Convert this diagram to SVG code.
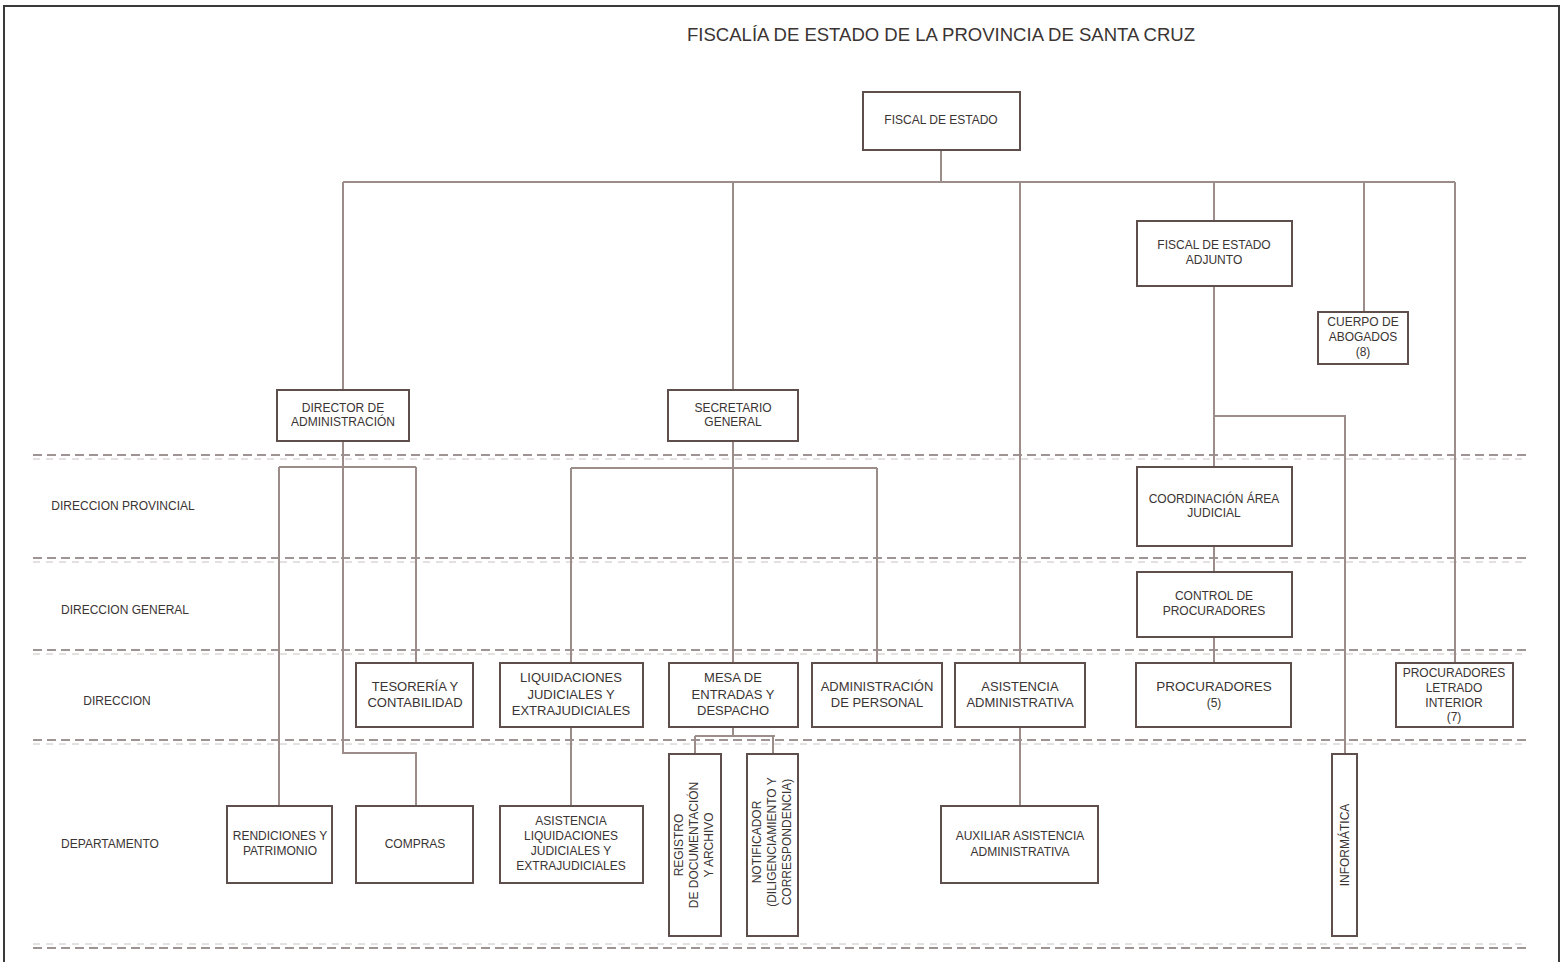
<svg xmlns="http://www.w3.org/2000/svg" width="1563" height="962" viewBox="0 0 1563 962">
<style>
text{font-family:"Liberation Sans",Arial,sans-serif;fill:#3a3433;text-anchor:middle}
.t12{font-size:12px}
.t13{font-size:13px}
.box{fill:#fff;stroke:#5e4f4d;stroke-width:2}
.ln{fill:none;stroke:#9c8d8b;stroke-width:2}
.dash{fill:none;stroke:#7e7270;stroke-width:1.6;stroke-dasharray:9 5}
.dash2{fill:none;stroke:#c9c2c1;stroke-width:1;stroke-dasharray:7 6}
.lbl{font-size:12px;fill:#3a3433}
</style>
<rect width="1563" height="962" fill="#fff"/>
<path d="M4,962 V6 H1559 V962" fill="none" stroke="#3a3a3a" stroke-width="2"/>
<text x="941" y="41" style="font-size:18px" textLength="508" lengthAdjust="spacingAndGlyphs">FISCALÍA DE ESTADO DE LA PROVINCIA DE SANTA CRUZ</text>
<g id="levels">
<line class="dash" x1="33" y1="455" x2="1528" y2="455"/>
<line class="dash2" x1="33" y1="459" x2="1528" y2="459"/>
<line class="dash" x1="33" y1="558" x2="1528" y2="558"/>
<line class="dash2" x1="33" y1="562" x2="1528" y2="562"/>
<line class="dash" x1="33" y1="650" x2="1528" y2="650"/>
<line class="dash2" x1="33" y1="654" x2="1528" y2="654"/>
<line class="dash" x1="33" y1="740" x2="1528" y2="740"/>
<line class="dash2" x1="33" y1="744" x2="1528" y2="744"/>
<line class="dash" x1="33" y1="948" x2="1528" y2="948"/>
<line class="dash2" x1="33" y1="944" x2="1528" y2="944"/>
<text class="lbl" x="123" y="510">DIRECCION PROVINCIAL</text>
<text class="lbl" x="125" y="614">DIRECCION GENERAL</text>
<text class="lbl" x="117" y="705">DIRECCION</text>
<text class="lbl" x="110" y="848">DEPARTAMENTO</text>
</g>
<g id="connectors">
<path class="ln" d="M941,150 V182 M343,182 H1455 M343,182 V390 M733,182 V390 M1020,182 V663 M1214,182 V221 M1364,182 V312 M1455,182 V663"/>
<path class="ln" d="M343,441 V753 H416 V806 M279,467 H416 M279,467 V806 M416,467 V663"/>
<path class="ln" d="M733,441 V663 M571,468 H877 M571,468 V806 M877,468 V663"/>
<path class="ln" d="M733,727 V736 M695,736 H775 M695,736 V754 M773,736 V754"/>
<path class="ln" d="M1020,727 V806"/>
<path class="ln" d="M1214,286 V467 M1214,546 V572 M1214,637 V663 M1214,416 H1345 V754"/>
</g>
<g id="n-fiscal"><rect class="box" x="863" y="92" width="157" height="58"/><text class="t12" x="941" y="124">FISCAL DE ESTADO</text></g>
<g id="n-adjunto"><rect class="box" x="1137" y="221" width="155" height="65"/><text class="t12" x="1214" y="249">FISCAL DE ESTADO</text><text class="t12" x="1214" y="264">ADJUNTO</text></g>
<g id="n-cuerpo"><rect class="box" x="1318" y="312" width="90" height="52"/><text class="t12" x="1363" y="326">CUERPO DE</text><text class="t12" x="1363" y="341">ABOGADOS</text><text class="t12" x="1363" y="356">(8)</text></g>
<g id="n-director"><rect class="box" x="277" y="390" width="132" height="51"/><text class="t12" x="343" y="412">DIRECTOR DE</text><text class="t12" x="343" y="426">ADMINISTRACIÓN</text></g>
<g id="n-secretario"><rect class="box" x="668" y="390" width="130" height="51"/><text class="t12" x="733" y="412">SECRETARIO</text><text class="t12" x="733" y="426">GENERAL</text></g>
<g id="n-coordinacion"><rect class="box" x="1137" y="467" width="155" height="79"/><text class="t12" x="1214" y="503">COORDINACIÓN ÁREA</text><text class="t12" x="1214" y="517">JUDICIAL</text></g>
<g id="n-control"><rect class="box" x="1137" y="572" width="155" height="65"/><text class="t12" x="1214" y="600">CONTROL DE</text><text class="t12" x="1214" y="615">PROCURADORES</text></g>
<g id="n-tesoreria"><rect class="box" x="356" y="663" width="117" height="64"/><text class="t13" x="415" y="691">TESORERÍA Y</text><text class="t13" x="415" y="707">CONTABILIDAD</text></g>
<g id="n-liquidaciones"><rect class="box" x="500" y="663" width="143" height="64"/><text class="t13" x="571" y="682">LIQUIDACIONES</text><text class="t13" x="571" y="699">JUDICIALES Y</text><text class="t13" x="571" y="715">EXTRAJUDICIALES</text></g>
<g id="n-mesa"><rect class="box" x="669" y="663" width="129" height="64"/><text class="t13" x="733" y="682">MESA DE</text><text class="t13" x="733" y="699">ENTRADAS Y</text><text class="t13" x="733" y="715">DESPACHO</text></g>
<g id="n-personal"><rect class="box" x="812" y="663" width="130" height="64"/><text class="t13" x="877" y="691">ADMINISTRACIÓN</text><text class="t13" x="877" y="707">DE PERSONAL</text></g>
<g id="n-asistencia"><rect class="box" x="955" y="663" width="130" height="64"/><text class="t13" x="1020" y="691">ASISTENCIA</text><text class="t13" x="1020" y="707">ADMINISTRATIVA</text></g>
<g id="n-procuradores"><rect class="box" x="1136" y="663" width="155" height="64"/><text x="1214" y="691" style="font-size:13.5px">PROCURADORES</text><text class="t12" x="1214" y="707">(5)</text></g>
<g id="n-letrado"><rect class="box" x="1396" y="663" width="117" height="64"/><text class="t12" x="1454" y="677">PROCURADORES</text><text class="t12" x="1454" y="692">LETRADO</text><text class="t12" x="1454" y="707">INTERIOR</text><text class="t12" x="1454" y="721">(7)</text></g>
<g id="n-rendiciones"><rect class="box" x="227" y="806" width="105" height="77"/><text class="t12" x="280" y="840">RENDICIONES Y</text><text class="t12" x="280" y="855">PATRIMONIO</text></g>
<g id="n-compras"><rect class="box" x="356" y="806" width="117" height="77"/><text class="t12" x="415" y="848">COMPRAS</text></g>
<g id="n-asistliq"><rect class="box" x="500" y="806" width="143" height="77"/><text class="t12" x="571" y="825">ASISTENCIA</text><text class="t12" x="571" y="840">LIQUIDACIONES</text><text class="t12" x="571" y="855">JUDICIALES Y</text><text class="t12" x="571" y="870">EXTRAJUDICIALES</text></g>
<g id="n-registro"><rect class="box" x="669" y="754" width="52" height="182"/><g transform="translate(695,845) rotate(-90)"><text class="t12" x="0" y="-12">REGISTRO</text><text class="t12" x="0" y="3">DE DOCUMENTACIÓN</text><text class="t12" x="0" y="18">Y ARCHIVO</text></g></g>
<g id="n-notificador"><rect class="box" x="747" y="754" width="51" height="182"/><g transform="translate(772,842) rotate(-90)"><text class="t12" x="0" y="-11">NOTIFICADOR</text><text class="t12" x="0" y="4">(DILIGENCIAMIENTO Y</text><text class="t12" x="0" y="19">CORRESPONDENCIA)</text></g></g>
<g id="n-auxiliar"><rect class="box" x="941" y="806" width="157" height="77"/><text class="t12" x="1020" y="840">AUXILIAR ASISTENCIA</text><text class="t12" x="1020" y="856">ADMINISTRATIVA</text></g>
<g id="n-informatica"><rect class="box" x="1332" y="754" width="25" height="182"/><text class="t12" transform="translate(1349,845) rotate(-90)" x="0" y="0">INFORMÁTICA</text></g>
</svg>
